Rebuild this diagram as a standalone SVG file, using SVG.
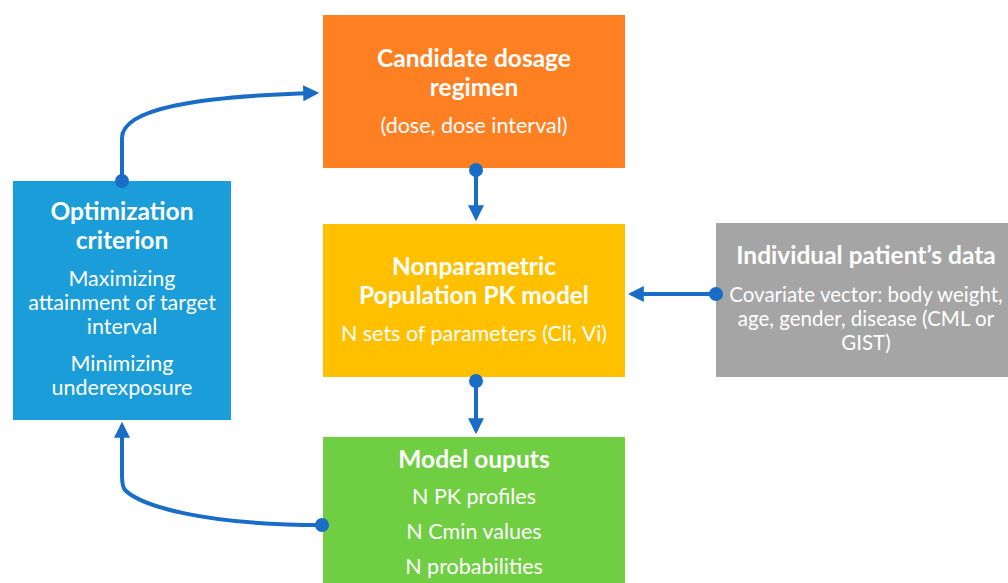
<svg xmlns="http://www.w3.org/2000/svg" width="1008" height="583" viewBox="0 0 1008 583">
<defs>
<style>
.t{font-family:Lato,"Open Sans",sans-serif;fill:#fff;text-anchor:middle}
.b{font-weight:bold;font-size:24.5px}
.r{font-size:21.5px}
.s{font-size:20.5px}
.c{fill:none;stroke:#1A6DC6;stroke-width:4}
.d{fill:#1A6DC6}
</style>
<marker id="ah" viewBox="0 0 10 10" refX="8" refY="5" markerWidth="4" markerHeight="4" markerUnits="strokeWidth" orient="auto">
<path d="M0,0 L10,5 L0,10 Z" fill="#1A6DC6"/>
</marker>
</defs>
<rect width="1008" height="583" fill="#fff"/>
<g id="candidate">
<rect x="323" y="15" width="302" height="153" fill="#FF8022"/>
<text class="t b" x="474" y="67">Candidate dosage</text>
<text class="t b" x="474" y="96">regimen</text>
<text class="t r" x="474" y="133">(dose, dose interval)</text>
</g>
<g id="optimization">
<rect x="13" y="181" width="218" height="239" fill="#1A9DD8"/>
<text class="t b" x="122" y="220">Optimization</text>
<text class="t b" x="122" y="249">criterion</text>
<text class="t r" x="122" y="286">Maximizing</text>
<text class="t r" x="122" y="310">attainment of target</text>
<text class="t r" x="122" y="334">interval</text>
<text class="t r" x="122" y="371">Minimizing</text>
<text class="t r" x="122" y="395">underexposure</text>
</g>
<g id="model">
<rect x="323" y="224" width="302" height="153" fill="#FFC000"/>
<text class="t b" x="474" y="275">Nonparametric</text>
<text class="t b" x="474" y="304">Population PK model</text>
<text class="t r" x="474" y="341">N sets of parameters (Cli, Vi)</text>
</g>
<g id="patient">
<rect x="716" y="223" width="302" height="154" fill="#A5A5A5"/>
<text class="t b" x="866" y="264">Individual patient’s data</text>
<text class="t s" x="866" y="302">Covariate vector: body weight,</text>
<text class="t s" x="866" y="326">age, gender, disease (CML or</text>
<text class="t s" x="866" y="350">GIST)</text>
</g>
<g id="outputs">
<rect x="323" y="437" width="302" height="150" fill="#70CE42"/>
<text class="t b" x="474" y="468">Model ouputs</text>
<text class="t r" x="474" y="504">N PK profiles</text>
<text class="t r" x="474" y="539">N Cmin values</text>
<text class="t r" x="474" y="574">N probabilities</text>
</g>
<g id="connectors">
<path class="c" d="M122,181 V138 C122,108 200,96 316,93" marker-end="url(#ah)"/>
<circle class="d" cx="122" cy="181" r="7"/>
<path class="c" d="M476,170 V218" marker-end="url(#ah)"/>
<circle class="d" cx="476" cy="170" r="7"/>
<path class="c" d="M476,381 V431" marker-end="url(#ah)"/>
<circle class="d" cx="476" cy="381" r="7"/>
<path class="c" d="M716,294 H631" marker-end="url(#ah)"/>
<circle class="d" cx="716" cy="294" r="7"/>
<path class="c" d="M322,525 C200,525 140,505 125,490 Q122,486 122,476 V425" marker-end="url(#ah)"/>
<circle class="d" cx="322" cy="525" r="7"/>
</g>
</svg>
